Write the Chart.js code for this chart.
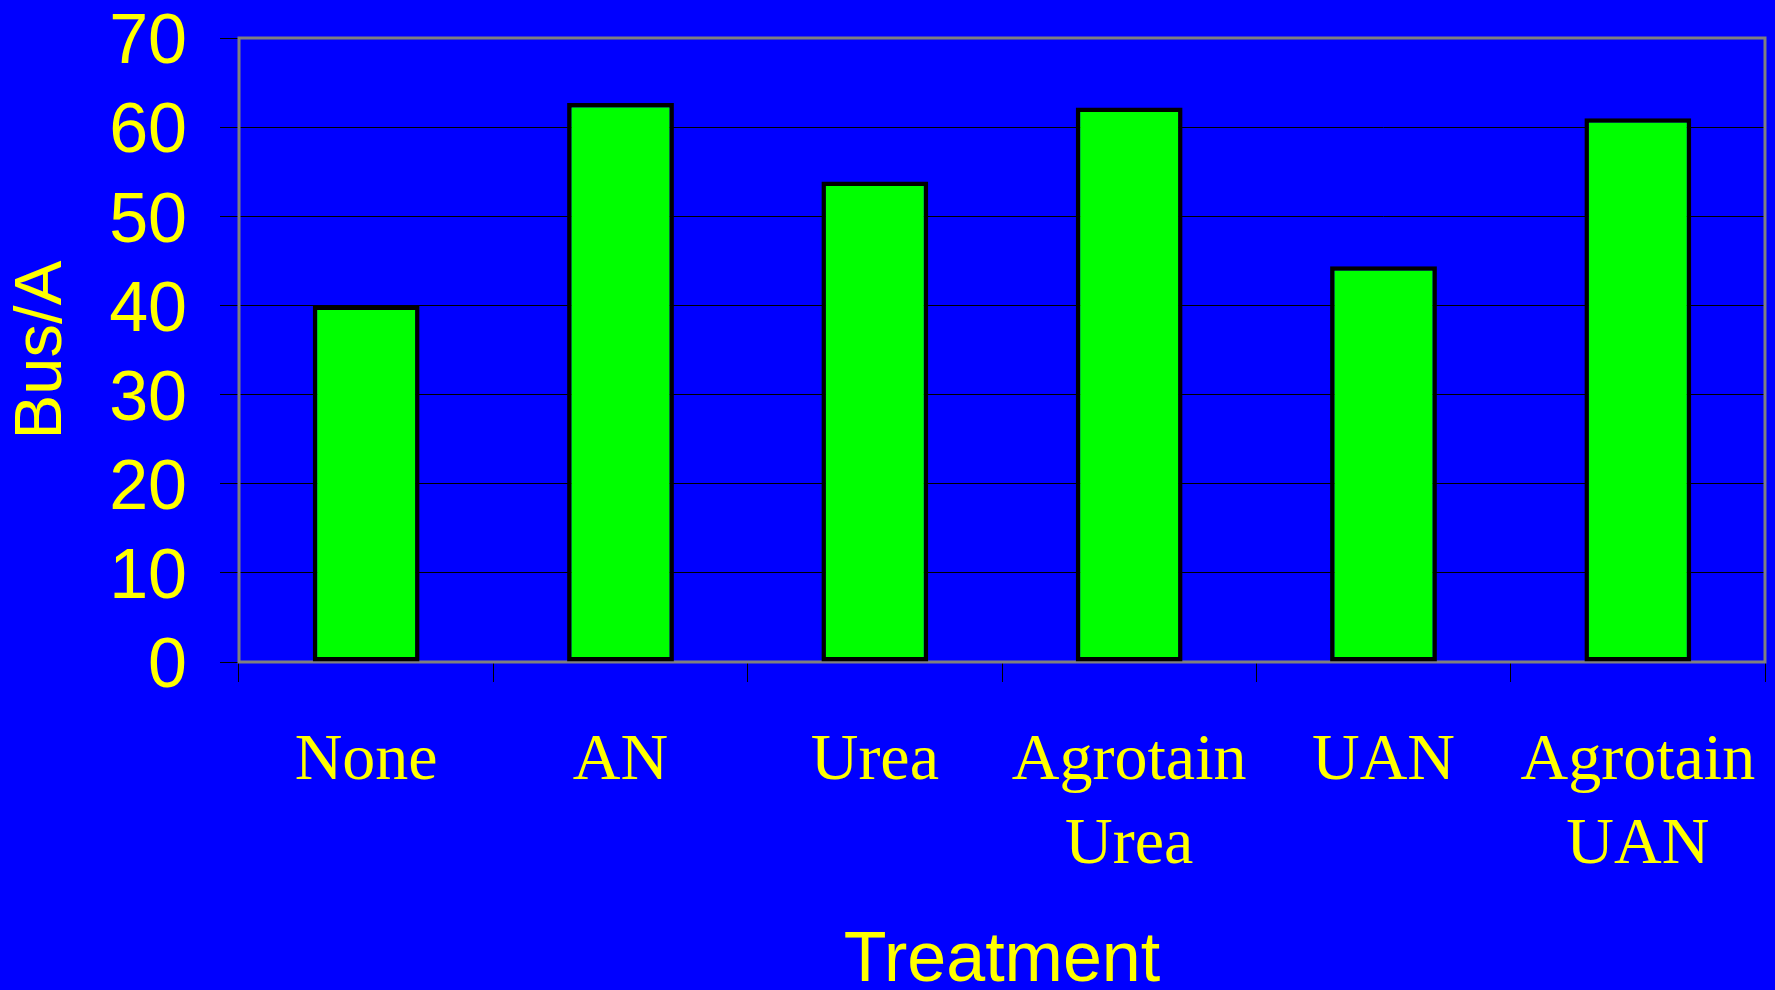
<!DOCTYPE html>
<html>
<head>
<meta charset="utf-8">
<script src="https://cdn.jsdelivr.net/npm/chart.js@4/dist/chart.umd.min.js"></script>
<style>
  html, body { margin: 0; padding: 0; background: #0000FF; overflow: hidden; }
  #wrap { width: 1775px; height: 990px; position: relative; }
</style>
</head>
<body>
<div id="wrap"><canvas id="c"></canvas></div>
<script>
const categories = [["None"], ["AN"], ["Urea"], ["Agrotain", "Urea"], ["UAN"], ["Agrotain", "UAN"]];
const yieldValues = [40, 62.7, 53.9, 62.2, 44.4, 61.0];
const yAxisTitle = "Bus/A";
const xAxisTitle = "Treatment";
const yMin = 0, yMax = 70, yStep = 10;

const bgPlugin = {
  id: 'bg',
  beforeDraw(chart) {
    const ctx = chart.ctx;
    ctx.save();
    ctx.fillStyle = '#0000FF';
    ctx.fillRect(0, 0, chart.width, chart.height);
    ctx.restore();
  },
  beforeDatasetsDraw(chart) {
    const a = chart.chartArea;
    const ctx = chart.ctx;
    ctx.save();
    ctx.strokeStyle = '#808080';
    ctx.lineWidth = 3;
    ctx.strokeRect(a.left, a.top, a.right - a.left, a.bottom - a.top);
    ctx.restore();
  }
};

function zeroPad(scale) {
  scale.paddingTop = 0;
  scale.paddingBottom = 0;
  scale.paddingLeft = 0;
  scale.paddingRight = 0;
}

new Chart(document.getElementById('c'), {
  type: 'bar',
  data: {
    labels: categories,
    datasets: [{
      data: yieldValues,
      backgroundColor: '#00FF00',
      borderColor: '#000000',
      borderWidth: 4.5,
      borderSkipped: false,
      categoryPercentage: 1,
      barPercentage: 0.42
    }]
  },
  options: {
    responsive: true,
    maintainAspectRatio: false,
    animation: false,
    devicePixelRatio: 1,
    layout: { padding: { top: 38, left: 0, right: 10, bottom: 0 } },
    plugins: { legend: { display: false }, tooltip: { enabled: false }, title: { display: false } },
    scales: {
      y: {
        min: yMin, max: yMax,
        ticks: {
          stepSize: yStep,
          color: '#FFFF00',
          padding: 33,
          callback: (v) => ['', String(v)],
          font: { family: "'Liberation Sans', Arial, sans-serif", size: 70, lineHeight: 0.17 }
        },
        grid: { color: '#000000', lineWidth: 1, tickLength: 19, drawTicks: true },
        border: { display: false },
        title: {
          display: true, text: yAxisTitle, color: '#FFFF00',
          font: { family: "'Liberation Sans', Arial, sans-serif", size: 67, lineHeight: 1.2 },
          padding: { top: 2, bottom: 0 }
        },
        afterFit(scale) { scale.width = 239; zeroPad(scale); }
      },
      x: {
        ticks: {
          color: '#FFFF00',
          padding: 38,
          maxRotation: 0, minRotation: 0, autoSkip: false,
          font: { family: "'Liberation Serif', 'Times New Roman', serif", size: 66, lineHeight: 1.27 }
        },
        grid: { color: '#000000', lineWidth: 1, tickLength: 20, drawOnChartArea: false, offset: true },
        border: { display: false },
        title: {
          display: true, text: xAxisTitle, color: '#FFFF00',
          font: { family: "'Liberation Sans', Arial, sans-serif", size: 70, lineHeight: 0.8 },
          padding: { top: 0, bottom: 0 }
        },
        afterFit(scale) { scale.height = 328; zeroPad(scale); }
      }
    }
  },
  plugins: [bgPlugin]
});
</script>
</body>
</html>
